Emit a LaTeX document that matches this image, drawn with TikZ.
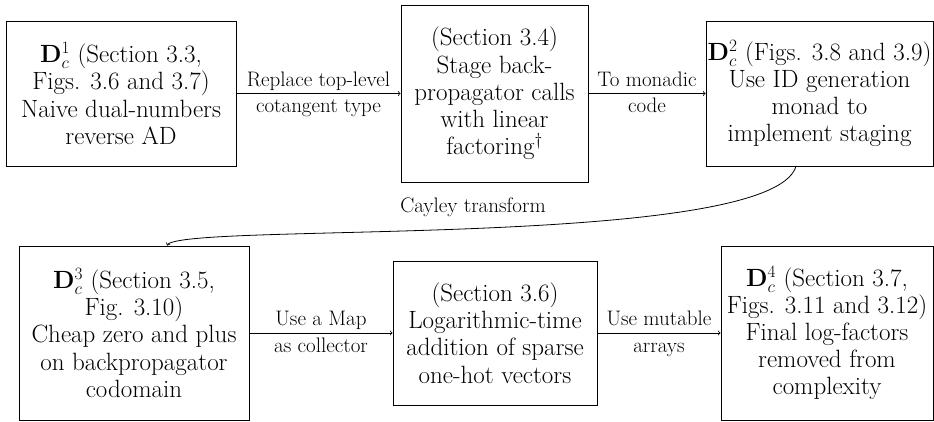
\documentclass[tikz,border=0pt]{standalone}
\begin{document}
\begin{tikzpicture}[x=1pt,y=-1pt,
  box/.style={draw, line width=0.9pt, align=center, inner sep=0pt,
    font=\fontsize{25}{27.2}\selectfont},
  lbl/.style={font=\fontsize{21}{24}\selectfont, text height=15pt, text depth=5pt},
  lblup/.style={lbl, above, inner sep=2pt},
  lbldn/.style={lbl, below, inner sep=4pt},
  conn/.style={->, line width=0.8pt}]
\useasboundingbox (0,0) rectangle (934,422);
\node[box, minimum width=230, minimum height=145] (b1) at (121,93.5)
  {$\mathbf{D}_c^1$ (Section 3.3,\\Figs. 3.6 and 3.7)\\Naive dual-numbers\\reverse AD};
\node[box, minimum width=187, minimum height=177] (b2) at (494.5,93.5)
  {(Section 3.4)\\Stage back-\\propagator calls\\with linear\\factoring$^\dagger$};
\node[box, minimum width=227, minimum height=145] (b3) at (819.5,93.5)
  {$\mathbf{D}_c^2$ (Figs. 3.8 and 3.9)\\Use ID generation\\monad to\\implement staging};
\node[box, minimum width=230, minimum height=174] (b4) at (134,333)
  {$\mathbf{D}_c^3$ (Section 3.5,\\Fig. 3.10)\\Cheap zero and plus\\on backpropagator\\codomain};
\node[box, minimum width=204, minimum height=144] (b5) at (495,333)
  {(Section 3.6)\\Logarithmic-time\\addition of sparse\\one-hot vectors};
\node[box, minimum width=212, minimum height=174] (b6) at (827,333)
  {$\mathbf{D}_c^4$ (Section 3.7,\\Figs. 3.11 and 3.12)\\Final log-factors\\removed from\\complexity};
\draw[conn] (b1) -- (b2)
  node[midway, lblup] {Replace top-level}
  node[midway, lbldn] {cotangent type};
\draw[conn] (b2) -- (b3)
  node[midway, lblup] {To monadic}
  node[midway, lbldn] {code};
\draw[conn] (b4) -- (b5)
  node[midway, lblup] {Use a Map}
  node[midway, lbldn] {as collector};
\draw[conn] (b5) -- (b6)
  node[midway, lblup] {Use mutable}
  node[midway, lbldn] {arrays};
\draw[conn] ([xshift=-23.5pt]b3.south) .. controls (770,250) and (180,222) .. ([xshift=33pt]b4.north);
\node[lbl, inner sep=0pt] (cay) at (473,207) {Cayley transform};
\end{tikzpicture}
\end{document}
